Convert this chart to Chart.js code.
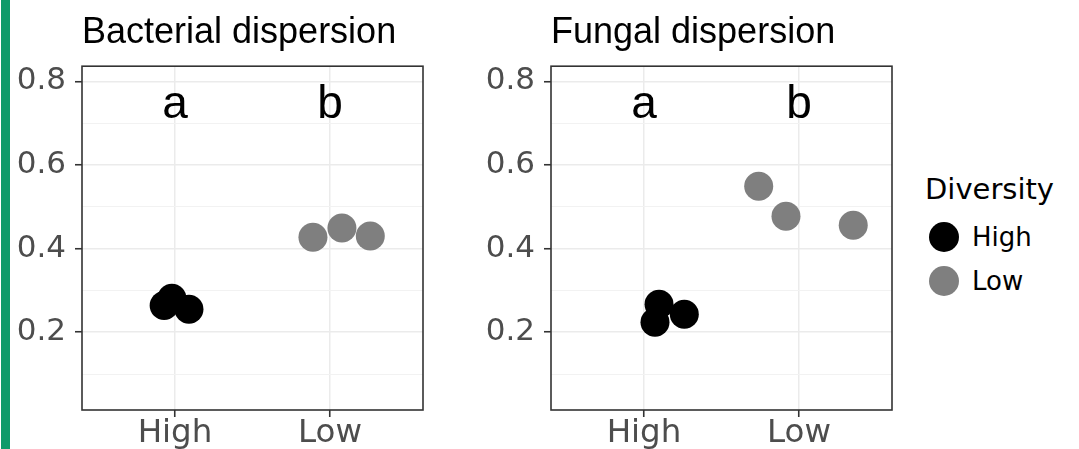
<!DOCTYPE html>
<html>
<head>
<meta charset="utf-8">
<script src="https://cdn.jsdelivr.net/npm/chart.js@4.4.1/dist/chart.umd.min.js"></script>
<style>
  body { margin: 0; background: #fff; width: 1079px; height: 449px; overflow: hidden; position: relative; }
  .bar { position: absolute; left: 1px; top: 0; width: 9px; height: 449px; background: #0f9a6a; }
  canvas { position: absolute; top: 0; }
  #c1 { left: 0; }
  #c2 { left: 469px; }
  .legend { position: absolute; left: 925px; top: 172px; font-family: "DejaVu Sans"; color: #000; }
  .legend .ttl { font-size: 29px; line-height: 34px; }
  .legend .item { position: relative; height: 44px; font-size: 26px; }
  .legend .dot { position: absolute; left: 4px; width: 30px; height: 30px; border-radius: 50%; top: 16px; }
  .legend .lab { position: absolute; left: 47px; top: 14px; line-height: 34px; }
</style>
</head>
<body>
<div class="bar"></div>
<canvas id="c1" width="450" height="449"></canvas>
<canvas id="c2" width="450" height="449"></canvas>
<div class="legend" id="legend"></div>
<script>
// categories and tick labels
const categories = ['High', 'Low'];
const yMajor = [0.2, 0.4, 0.6, 0.8];
const yMinor = [0.1, 0.3, 0.5, 0.7];
const letters = ['a', 'b'];

// bacterial dispersion (values + horizontal jitter)
const bactHigh = [0.264, 0.281, 0.255];
const bactHighJitter = [-0.07, -0.02, 0.09];
const bactLow = [0.427, 0.449, 0.430];
const bactLowJitter = [-0.11, 0.077, 0.26];

// fungal dispersion
const fungHigh = [0.267, 0.224, 0.243];
const fungHighJitter = [0.097, 0.071, 0.26];
const fungLow = [0.549, 0.477, 0.456];
const fungLowJitter = [-0.26, -0.084, 0.35];

const colors = { High: '#000000', Low: '#7f7f7f' };

const pts = (vals, jit, cat) => vals.map((v, i) => ({ x: categories.indexOf(cat) + 1 + jit[i], y: v }));
const isMajor = (v) => yMajor.some(m => Math.abs(m - v) < 1e-6);

// panel border + significance letters
const panelPlugin = {
    id: 'panel',
    beforeDatasetsDraw(chart) {
        const { ctx, chartArea: a } = chart;
        ctx.save();
        ctx.strokeStyle = '#333333';
        ctx.lineWidth = 1.6;
        ctx.strokeRect(a.left, a.top, a.right - a.left, a.bottom - a.top);
        ctx.restore();
    },
    afterDatasetsDraw(chart) {
        const { ctx, scales } = chart;
        ctx.save();
        ctx.fillStyle = '#000';
        ctx.font = '46px "Liberation Sans"';
        ctx.textAlign = 'center';
        ctx.textBaseline = 'alphabetic';
        letters.forEach((l, i) => {
            ctx.fillText(l, scales.x.getPixelForValue(i + 1), scales.y.getPixelForValue(0.711));
        });
        ctx.restore();
    }
};

function makePanel(id, title, high, highJit, low, lowJit) {
    return new Chart(document.getElementById(id), {
        type: 'scatter',
        data: {
            datasets: [
                { label: 'High', data: pts(high, highJit, 'High'), backgroundColor: colors.High, pointRadius: 14.5, borderWidth: 0, pointHoverRadius: 14.5 },
                { label: 'Low', data: pts(low, lowJit, 'Low'), backgroundColor: colors.Low, pointRadius: 14.5, borderWidth: 0, pointHoverRadius: 14.5 }
            ]
        },
        options: {
            responsive: false,
            animation: false,
            layout: { padding: { left: 0, right: 27, top: 0, bottom: 0 } },
            plugins: {
                legend: { display: false },
                tooltip: { enabled: false },
                title: {
                    display: true,
                    text: title,
                    align: 'start',
                    fullSize: false,
                    color: '#000',
                    font: { family: 'Liberation Sans', size: 36, weight: 'normal', lineHeight: 1.2 },
                    padding: { top: 11, bottom: 12 }
                }
            },
            scales: {
                x: {
                    type: 'linear',
                    min: 0.4,
                    max: 2.6,
                    afterBuildTicks: (s) => { s.ticks = categories.map((c, i) => ({ value: i + 1 })); },
                    afterFit: (s) => { s.height = 39; },
                    border: { display: false },
                    grid: { color: '#ebebeb', lineWidth: 1.5, tickLength: 7, tickColor: '#333333', tickWidth: 1.6 },
                    ticks: {
                        padding: -3,
                        color: '#4d4d4d',
                        font: { family: 'DejaVu Sans', size: 32.5 },
                        callback: (v) => categories[Math.round(v) - 1]
                    }
                },
                y: {
                    min: 0.014,
                    max: 0.836,
                    afterBuildTicks: (s) => { s.ticks = yMinor.concat(yMajor).sort().map(v => ({ value: v })); },
                    afterFit: (s) => { s.width = 82; },
                    border: { display: false },
                    grid: {
                        color: (c) => isMajor(c.tick.value) ? '#ebebeb' : '#f2f2f2',
                        lineWidth: (c) => isMajor(c.tick.value) ? 1.5 : 1,
                        tickLength: 7,
                        tickColor: (c) => isMajor(c.tick.value) ? '#333333' : 'rgba(0,0,0,0)',
                        tickWidth: 1.6
                    },
                    ticks: {
                        padding: 9,
                        color: '#4d4d4d',
                        font: { family: 'DejaVu Sans', size: 31 },
                        callback: (v) => isMajor(v) ? v.toFixed(1) : ''
                    }
                }
            }
        },
        plugins: [panelPlugin]
    });
}

makePanel('c1', 'Bacterial dispersion', bactHigh, bactHighJitter, bactLow, bactLowJitter);
makePanel('c2', 'Fungal dispersion', fungHigh, fungHighJitter, fungLow, fungLowJitter);

// legend
const legend = document.getElementById('legend');
legend.innerHTML = '<div class="ttl">Diversity</div>' + categories.map(c =>
    '<div class="item"><span class="dot" style="background:' + colors[c] + '"></span><span class="lab">' + c + '</span></div>'
).join('');
</script>
</body>
</html>
